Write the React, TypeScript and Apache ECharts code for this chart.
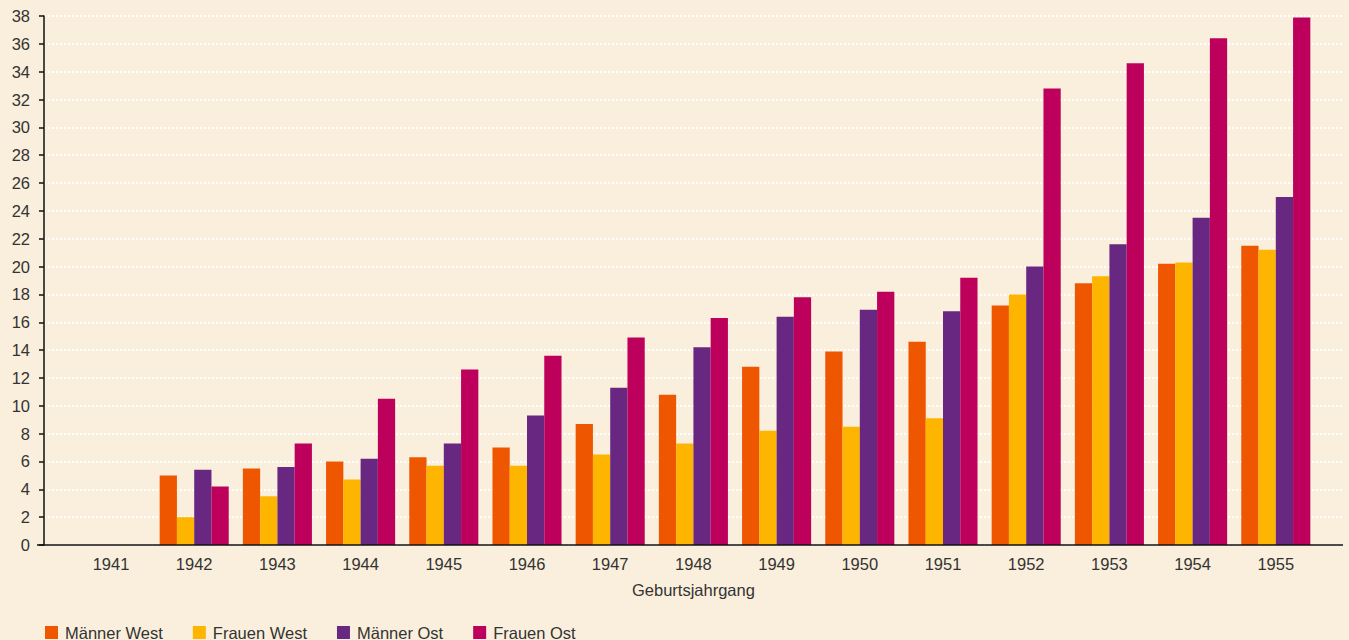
import React, { useEffect, useRef } from "react";
import * as echarts from "echarts";

const categories = ["1941", "1942", "1943", "1944", "1945", "1946", "1947", "1948", "1949", "1950", "1951", "1952", "1953", "1954", "1955"];
const maennerWest = [null, 5.0, 5.5, 6.0, 6.3, 7.0, 8.7, 10.8, 12.8, 13.9, 14.6, 17.2, 18.8, 20.2, 21.5];
const frauenWest = [null, 2.0, 3.5, 4.7, 5.7, 5.7, 6.5, 7.3, 8.2, 8.5, 9.1, 18.0, 19.3, 20.3, 21.2];
const maennerOst = [null, 5.4, 5.6, 6.2, 7.3, 9.3, 11.3, 14.2, 16.4, 16.9, 16.8, 20.0, 21.6, 23.5, 25.0];
const frauenOst = [null, 4.2, 7.3, 10.5, 12.6, 13.6, 14.9, 16.3, 17.8, 18.2, 19.2, 32.8, 34.6, 36.4, 37.9];
const seriesNames = ["Männer West", "Frauen West", "Männer Ost", "Frauen Ost"];
const seriesColors = ["#EE5700", "#FDB500", "#682882", "#BC005C"];

const FONT = "'Liberation Sans', Arial, Helvetica, sans-serif";
const TEXT = "#333333";
const FS = 16.5;

export default function App() {
  const ref = useRef<HTMLDivElement>(null);
  useEffect(() => {
    if (!ref.current) return;
    const chart = echarts.init(ref.current, undefined, { renderer: "svg" });
    const values = [maennerWest, frauenWest, maennerOst, frauenOst];
    chart.setOption({
      animation: false,
      backgroundColor: "#FAEFDC",
      textStyle: { fontFamily: FONT },
      grid: [
        { left: 69.4, width: 1248, top: 16, height: 529, containLabel: false },
        { left: 44, right: 6, top: 16, height: 529, containLabel: false },
      ],
      xAxis: [
        {
          type: "category",
          gridIndex: 0,
          data: categories,
          axisLine: { show: false },
          axisTick: { show: false },
          axisLabel: { color: TEXT, fontSize: FS, fontFamily: FONT, margin: 10 },
          name: "Geburtsjahrgang",
          nameLocation: "middle",
          nameGap: 36,
          nameTextStyle: { color: TEXT, fontSize: FS, fontFamily: FONT, verticalAlign: "top" },
        },
        {
          type: "value",
          gridIndex: 1,
          min: 0,
          max: 1,
          show: false,
        },
      ],
      yAxis: [
        { type: "value", gridIndex: 0, min: 0, max: 38, show: false },
        {
          type: "value",
          gridIndex: 1,
          min: 0,
          max: 38,
          interval: 2,
          axisLine: { show: true, lineStyle: { color: "#111", width: 1.5 } },
          axisTick: { show: true, length: 5, lineStyle: { color: "#111", width: 1.5 } },
          axisLabel: { color: TEXT, fontSize: FS, fontFamily: FONT, margin: 14 },
          splitLine: {
            show: true,
            lineStyle: { color: "#FFFFFF", width: 2, type: [2, 2] },
          },
        },
      ],
      legend: {
        left: 40,
        top: 619,
        itemWidth: 13,
        itemHeight: 13,
        itemGap: 30,
        icon: "rect",
        textStyle: { color: TEXT, fontSize: FS, fontFamily: FONT, padding: [0, 0, 0, 2] },
        data: seriesNames,
      },
      graphic: [
        {
          type: "line",
          shape: { x1: 37, y1: 545, x2: 1343, y2: 545 },
          style: { stroke: "#111", lineWidth: 1.5 },
          z: 100,
        },
      ],
      series: seriesNames.map((name, i) => ({
        name,
        type: "bar",
        xAxisIndex: 0,
        yAxisIndex: 0,
        data: values[i],
        barGap: "0%",
        barCategoryGap: "17%",
        itemStyle: { color: seriesColors[i] },
        z: 5,
      })),
    });
    return () => chart.dispose();
  }, []);
  return (
    <div
      ref={ref}
      style={{ position: "fixed", left: 0, top: 0, width: 1349, height: 640 }}
    />
  );
}
